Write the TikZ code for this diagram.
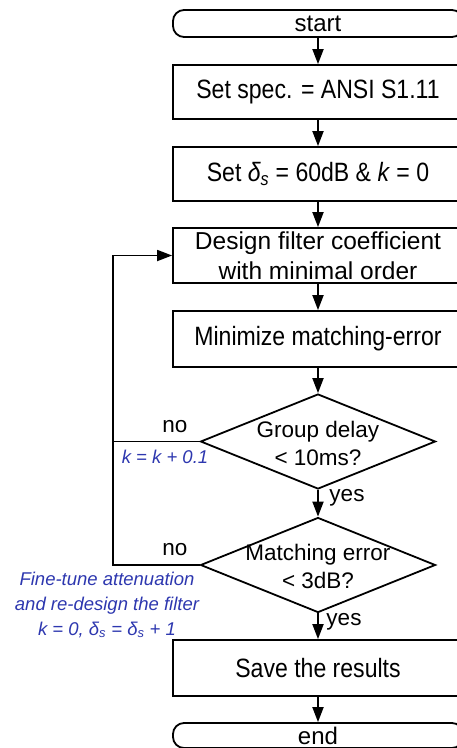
\documentclass[tikz,border=0pt]{standalone}
\usepackage{fontspec}
\setmainfont{Liberation Sans}
\newfontfamily\tallfont{Liberation Sans}[FakeStretch=0.87]
\usetikzlibrary{arrows.meta,shapes.geometric}
\definecolor{noteblue}{RGB}{45,55,175}
\newcommand{\dsub}{{\itshape δ}\textsubscript{\itshape s}}
\begin{document}
\begin{tikzpicture}[x=1pt,y=-1pt,
  every node/.style={font=\fontsize{22.5}{27}\selectfont},
  box/.style={draw, line width=1.8pt, minimum width=290pt, minimum height=55pt, inner sep=2pt, align=center, font=\tallfont\fontsize{26.5}{30}\selectfont},
  term/.style={draw, line width=1.8pt, rounded corners=11pt, minimum width=290pt, minimum height=27pt, inner sep=0pt, font=\fontsize{24}{26}\selectfont},
  dec/.style={draw, diamond, line width=1.8pt, minimum width=235pt, minimum height=95pt, inner sep=0pt},
  dtext/.style={align=center, inner sep=0pt, font=\fontsize{22.5}{28}\selectfont},
  conn/.style={line width=1.8pt, -{Triangle[length=15pt,width=11pt]}},
  plain/.style={line width=1.8pt},
  note/.style={text=noteblue, inner sep=0pt, align=center, font=\fontsize{18.5}{25}\selectfont\itshape}
]
\useasboundingbox (0,0) rectangle (457,748);
\node[term] (start) at (318,23.5) {start};
\node[box, minimum height=54pt] (spec) at (318,92) {Set spec. = ANSI S1.11};
\node[box, minimum height=54pt] (setd) at (318,174) {Set \dsub{} = 60dB \& \textit{k} = 0};
\node[box, font=\fontsize{24.5}{29.5}\selectfont] (design) at (318,255.5) {Design filter coefficient\\with minimal order};
\node[box, minimum height=56pt] (minim) at (318,339) {Minimize matching-error};
\node[dec] (d1) at (318,441.5) {};
\node[dtext] (d1t) at (318,443) {Group delay\\< 10ms?};
\node[dec] (d2) at (318,565) {};
\node[dtext] (d2t) at (318,566) {Matching error\\< 3dB?};
\node[box, minimum height=56pt] (save) at (318,668) {Save the results};
\node[term, minimum height=25pt] (end) at (318,735.5) {end};

\coordinate (L1) at (113,441.5);
\coordinate (L2) at (113,565);

\draw[conn] (start) -- (spec);
\draw[conn] (spec) -- (setd);
\draw[conn] (setd) -- (design);
\draw[conn] (design) -- (minim);
\draw[conn] (minim) -- (d1);
\draw[conn] (d1) -- (d2);
\draw[conn] (d2) -- (save);
\draw[conn] (save) -- (end);
\draw[plain] (d1.west) -- (L1);
\draw[conn] (d2.west) -- (L2) |- (design.west);

\node (no1) at (175,427) {no};
\node (no2) at (175,550) {no};
\node (yes1) at (347,498) {yes};
\node (yes2) at (344,622) {yes};
\node[note] (kinc) at (165,457) {k = k + 0.1};
\node[note] (fine) at (107,605) {Fine-tune attenuation\\and re-design the filter\\k = 0, \dsub{} = \dsub{} + 1\hspace{20pt}};
\end{tikzpicture}
\end{document}
